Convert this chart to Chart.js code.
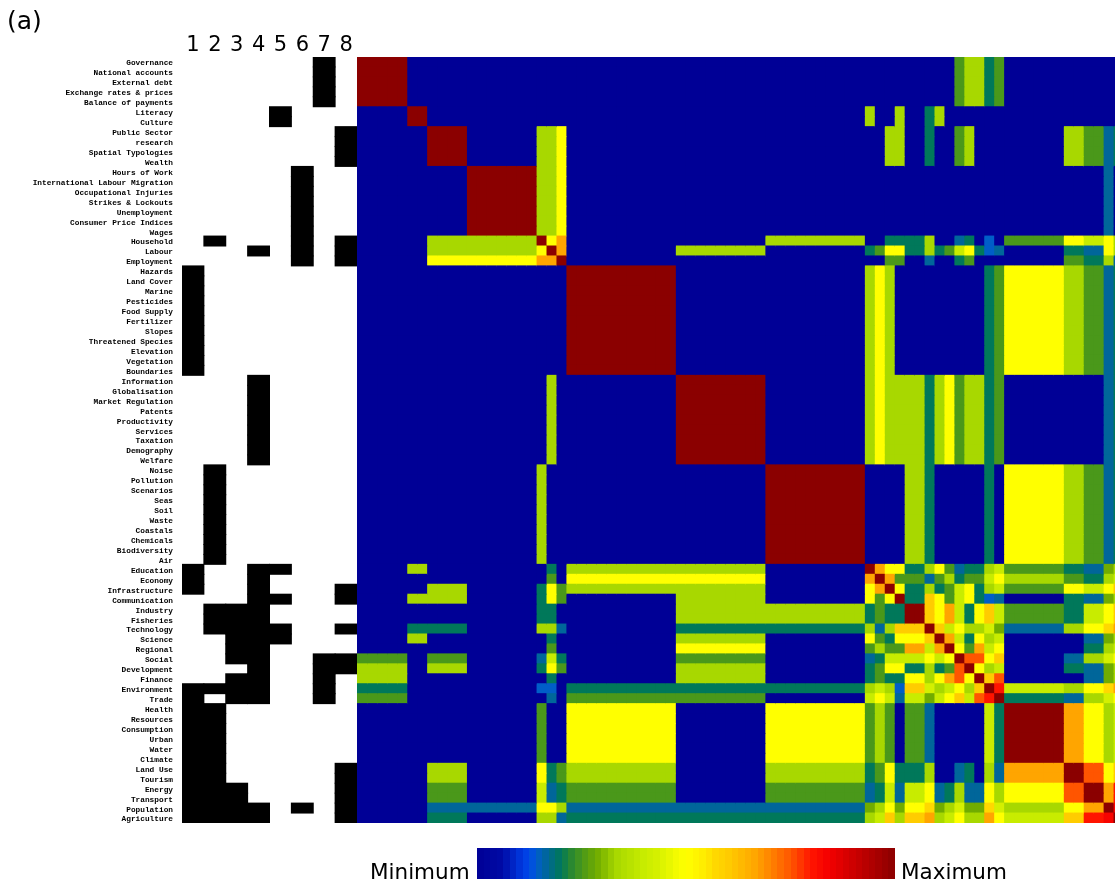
<!DOCTYPE html>
<html><head><meta charset="utf-8">
<script src="https://cdn.jsdelivr.net/npm/chart.js@4.4.1/dist/chart.umd.min.js"></script>
<style>
html,body{margin:0;padding:0;background:#fff;width:1115px;height:883px;overflow:hidden;}
#wrap{position:relative;width:1115px;height:883px;background:#fff;}
canvas{position:absolute;left:0;top:0;}
.txt{position:absolute;font-family:"DejaVu Sans";color:#000;white-space:nowrap;line-height:1;}
</style></head><body>
<div id="wrap">
<canvas id="mem" width="1115" height="883"></canvas>
<canvas id="heat" width="1115" height="883"></canvas>
<div class="txt" style="left:7px;top:8px;font-size:25px;">(a)</div>
<div class="txt" style="left:370px;top:861px;font-size:21.5px;">Minimum</div>
<div class="txt" style="left:901px;top:861px;font-size:21.5px;">Maximum</div>
</div>
<script>
// ---------------- DATA ----------------
const rowLabels = ["Governance","National accounts","External debt","Exchange rates & prices","Balance of payments",
"Literacy","Culture","Public Sector","research","Spatial Typologies","Wealth","Hours of Work",
"International Labour Migration","Occupational Injuries","Strikes & Lockouts","Unemployment",
"Consumer Price Indices","Wages","Household","Labour","Employment","Hazards","Land Cover","Marine",
"Pesticides","Food Supply","Fertilizer","Slopes","Threatened Species","Elevation","Vegetation",
"Boundaries","Information","Globalisation","Market Regulation","Patents","Productivity","Services",
"Taxation","Demography","Welfare","Noise","Pollution","Scenarios","Seas","Soil","Waste","Coastals",
"Chemicals","Biodiversity","Air","Education","Economy","Infrastructure","Communication","Industry",
"Fisheries","Technology","Science","Regional","Social","Development","Finance","Environment","Trade",
"Health","Resources","Consumption","Urban","Water","Climate","Land Use","Tourism","Energy","Transport",
"Population","Agriculture"];

const memberColumns = ["1","2","3","4","5","6","7","8"];

// '#' = row belongs to that column
const membership = [
"......#.","......#.","......#.","......#.","......#.",
"....#...","....#...",
".......#",".......#",".......#",".......#",
".....#..",".....#..",".....#..",".....#..",".....#..",".....#..",".....#..",
".#...#.#","...#.#.#",".....#.#",
"#.......","#.......","#.......","#.......","#.......","#.......","#.......","#.......","#.......","#.......","#.......",
"...#....","...#....","...#....","...#....","...#....","...#....","...#....","...#....","...#....",
".#......",".#......",".#......",".#......",".#......",".#......",".#......",".#......",".#......",".#......",
"#..##...","#..#....","#..#...#","...##..#",".###....",".###....",".####..#","..###...","..##....",
"..##..##","...#..##","..##..#.","####..#.","#.##..#.",
"##......","##......","##......","##......","##......","##......",
"##.....#","##.....#","###....#","###....#","####.#.#","####...#"];

// similarity level codes and their values
const levelCodes  = ["0","a","b","c","d","e","f","h","i","j","k","l","n","p","q","r","1"];
const levelValues = [0,0.143,0.167,0.2,0.25,0.286,0.333,0.4,0.429,0.5,0.571,0.6,0.667,0.75,0.8,0.833,1];

// one string per row, one code per column (spaces only for readability)
const similarityRows = [
"11111 00 0000 0000000 0 0 0 00000000000 000000000 0000000000 0 0 0 0 00 0 0 0 d f f c d 000000 00 00 0 0",
"11111 00 0000 0000000 0 0 0 00000000000 000000000 0000000000 0 0 0 0 00 0 0 0 d f f c d 000000 00 00 0 0",
"11111 00 0000 0000000 0 0 0 00000000000 000000000 0000000000 0 0 0 0 00 0 0 0 d f f c d 000000 00 00 0 0",
"11111 00 0000 0000000 0 0 0 00000000000 000000000 0000000000 0 0 0 0 00 0 0 0 d f f c d 000000 00 00 0 0",
"11111 00 0000 0000000 0 0 0 00000000000 000000000 0000000000 0 0 0 0 00 0 0 0 d f f c d 000000 00 00 0 0",
"00000 11 0000 0000000 0 0 0 00000000000 000000000 0000000000 f 0 0 f 00 c f 0 0 0 0 0 0 000000 00 00 0 0",
"00000 11 0000 0000000 0 0 0 00000000000 000000000 0000000000 f 0 0 f 00 c f 0 0 0 0 0 0 000000 00 00 0 0",
"00000 00 1111 0000000 f f j 00000000000 000000000 0000000000 0 0 f f 00 c 0 0 d f 0 0 0 000000 ff dd b c",
"00000 00 1111 0000000 f f j 00000000000 000000000 0000000000 0 0 f f 00 c 0 0 d f 0 0 0 000000 ff dd b c",
"00000 00 1111 0000000 f f j 00000000000 000000000 0000000000 0 0 f f 00 c 0 0 d f 0 0 0 000000 ff dd b c",
"00000 00 1111 0000000 f f j 00000000000 000000000 0000000000 0 0 f f 00 c 0 0 d f 0 0 0 000000 ff dd b c",
"00000 00 0000 1111111 f f j 00000000000 000000000 0000000000 0 0 0 0 00 0 0 0 0 0 0 0 0 000000 00 00 b 0",
"00000 00 0000 1111111 f f j 00000000000 000000000 0000000000 0 0 0 0 00 0 0 0 0 0 0 0 0 000000 00 00 b 0",
"00000 00 0000 1111111 f f j 00000000000 000000000 0000000000 0 0 0 0 00 0 0 0 0 0 0 0 0 000000 00 00 b 0",
"00000 00 0000 1111111 f f j 00000000000 000000000 0000000000 0 0 0 0 00 0 0 0 0 0 0 0 0 000000 00 00 b 0",
"00000 00 0000 1111111 f f j 00000000000 000000000 0000000000 0 0 0 0 00 0 0 0 0 0 0 0 0 000000 00 00 b 0",
"00000 00 0000 1111111 f f j 00000000000 000000000 0000000000 0 0 0 0 00 0 0 0 0 0 0 0 0 000000 00 00 b 0",
"00000 00 0000 1111111 f f j 00000000000 000000000 0000000000 0 0 0 0 00 0 0 0 0 0 0 0 0 000000 00 00 b 0",
"00000 00 ffff fffffff 1 j n 00000000000 000000000 ffffffffff 0 0 c c cc f 0 0 b c 0 a 0 dddddd jj hh j f",
"00000 00 ffff fffffff j 1 n 00000000000 fffffffff 0000000000 c d j j cc f c d h j c a b 000000 cc bb j f",
"00000 00 jjjj jjjjjjj n n 1 00000000000 000000000 0000000000 0 0 d d 00 b 0 0 c d 0 0 0 000000 dd cc f b",
"00000 00 0000 0000000 0 0 0 11111111111 000000000 0000000000 f j f 0 00 0 0 0 0 0 0 c d jjjjjj ff dd b c",
"00000 00 0000 0000000 0 0 0 11111111111 000000000 0000000000 f j f 0 00 0 0 0 0 0 0 c d jjjjjj ff dd b c",
"00000 00 0000 0000000 0 0 0 11111111111 000000000 0000000000 f j f 0 00 0 0 0 0 0 0 c d jjjjjj ff dd b c",
"00000 00 0000 0000000 0 0 0 11111111111 000000000 0000000000 f j f 0 00 0 0 0 0 0 0 c d jjjjjj ff dd b c",
"00000 00 0000 0000000 0 0 0 11111111111 000000000 0000000000 f j f 0 00 0 0 0 0 0 0 c d jjjjjj ff dd b c",
"00000 00 0000 0000000 0 0 0 11111111111 000000000 0000000000 f j f 0 00 0 0 0 0 0 0 c d jjjjjj ff dd b c",
"00000 00 0000 0000000 0 0 0 11111111111 000000000 0000000000 f j f 0 00 0 0 0 0 0 0 c d jjjjjj ff dd b c",
"00000 00 0000 0000000 0 0 0 11111111111 000000000 0000000000 f j f 0 00 0 0 0 0 0 0 c d jjjjjj ff dd b c",
"00000 00 0000 0000000 0 0 0 11111111111 000000000 0000000000 f j f 0 00 0 0 0 0 0 0 c d jjjjjj ff dd b c",
"00000 00 0000 0000000 0 0 0 11111111111 000000000 0000000000 f j f 0 00 0 0 0 0 0 0 c d jjjjjj ff dd b c",
"00000 00 0000 0000000 0 0 0 11111111111 000000000 0000000000 f j f 0 00 0 0 0 0 0 0 c d jjjjjj ff dd b c",
"00000 00 0000 0000000 0 f 0 00000000000 111111111 0000000000 f j f f ff c f j d f f c d 000000 00 00 b c",
"00000 00 0000 0000000 0 f 0 00000000000 111111111 0000000000 f j f f ff c f j d f f c d 000000 00 00 b c",
"00000 00 0000 0000000 0 f 0 00000000000 111111111 0000000000 f j f f ff c f j d f f c d 000000 00 00 b c",
"00000 00 0000 0000000 0 f 0 00000000000 111111111 0000000000 f j f f ff c f j d f f c d 000000 00 00 b c",
"00000 00 0000 0000000 0 f 0 00000000000 111111111 0000000000 f j f f ff c f j d f f c d 000000 00 00 b c",
"00000 00 0000 0000000 0 f 0 00000000000 111111111 0000000000 f j f f ff c f j d f f c d 000000 00 00 b c",
"00000 00 0000 0000000 0 f 0 00000000000 111111111 0000000000 f j f f ff c f j d f f c d 000000 00 00 b c",
"00000 00 0000 0000000 0 f 0 00000000000 111111111 0000000000 f j f f ff c f j d f f c d 000000 00 00 b c",
"00000 00 0000 0000000 0 f 0 00000000000 111111111 0000000000 f j f f ff c f j d f f c d 000000 00 00 b c",
"00000 00 0000 0000000 f 0 0 00000000000 000000000 1111111111 0 0 0 0 ff c 0 0 0 0 0 c 0 jjjjjj ff dd b c",
"00000 00 0000 0000000 f 0 0 00000000000 000000000 1111111111 0 0 0 0 ff c 0 0 0 0 0 c 0 jjjjjj ff dd b c",
"00000 00 0000 0000000 f 0 0 00000000000 000000000 1111111111 0 0 0 0 ff c 0 0 0 0 0 c 0 jjjjjj ff dd b c",
"00000 00 0000 0000000 f 0 0 00000000000 000000000 1111111111 0 0 0 0 ff c 0 0 0 0 0 c 0 jjjjjj ff dd b c",
"00000 00 0000 0000000 f 0 0 00000000000 000000000 1111111111 0 0 0 0 ff c 0 0 0 0 0 c 0 jjjjjj ff dd b c",
"00000 00 0000 0000000 f 0 0 00000000000 000000000 1111111111 0 0 0 0 ff c 0 0 0 0 0 c 0 jjjjjj ff dd b c",
"00000 00 0000 0000000 f 0 0 00000000000 000000000 1111111111 0 0 0 0 ff c 0 0 0 0 0 c 0 jjjjjj ff dd b c",
"00000 00 0000 0000000 f 0 0 00000000000 000000000 1111111111 0 0 0 0 ff c 0 0 0 0 0 c 0 jjjjjj ff dd b c",
"00000 00 0000 0000000 f 0 0 00000000000 000000000 1111111111 0 0 0 0 ff c 0 0 0 0 0 c 0 jjjjjj ff dd b c",
"00000 00 0000 0000000 f 0 0 00000000000 000000000 1111111111 0 0 0 0 ff c 0 0 0 0 0 c 0 jjjjjj ff dd b c",
"00000 ff 0000 0000000 0 c 0 fffffffffff fffffffff 0000000000 1 n j j cc f j d b c c f h dddddd cc bb e f",
"00000 00 0000 0000000 0 d 0 jjjjjjjjjjj jjjjjjjjj 0000000000 n 1 n d dd b d f c d d h j ffffff dd cc f h",
"00000 00 ffff 0000000 c j d fffffffffff fffffffff 0000000000 j n 1 j cc f c d h j c f h dddddd jj hh j l",
"00000 ff ffff 0000000 c j d 00000000000 fffffffff 0000000000 j d j 1 cc l j d h j c a b 000000 cc bb e f",
"00000 00 0000 0000000 c c 0 00000000000 fffffffff ffffffffff c d c c 11 l j n h c j l h dddddd cc hh j l",
"00000 00 0000 0000000 c c 0 00000000000 fffffffff ffffffffff c d c c 11 l j n h c j l h dddddd cc hh j l",
"00000 cc cccc 0000000 f f b 00000000000 ccccccccc cccccccccc f b f l ll 1 l h j f f i e bbbbbb ff jj k n",
"00000 ff 0000 0000000 0 c 0 00000000000 fffffffff 0000000000 j d c j jj l 1 n h c j f h 000000 00 bb e f",
"00000 00 0000 0000000 0 d 0 00000000000 jjjjjjjjj 0000000000 d f d d nn h n 1 j d n h j 000000 00 cc f h",
"ddddd 00 dddd 0000000 b h c 00000000000 ddddddddd 0000000000 b c h h hh j h j 1 p p j l 000000 bb ff i j",
"fffff 00 ffff 0000000 c j d 00000000000 fffffffff 0000000000 c d j j cc f c d p 1 j f h 000000 cc bb e f",
"fffff 00 0000 0000000 0 c 0 00000000000 fffffffff 0000000000 c d c c jj f j n p j 1 l p 000000 00 bb e f",
"ccccc 00 0000 0000000 a a 0 ccccccccccc ccccccccc cccccccccc f h f a ll i f h j f l 1 q hhhhhh ff jj k n",
"ddddd 00 0000 0000000 0 b 0 ddddddddddd ddddddddd 0000000000 h j h b hh e h j l h p q 1 cccccc bb ff i j",
"00000 00 0000 0000000 d 0 0 jjjjjjjjjjj 000000000 jjjjjjjjjj d f d 0 dd b 0 0 0 0 0 h c 111111 nn jj f h",
"00000 00 0000 0000000 d 0 0 jjjjjjjjjjj 000000000 jjjjjjjjjj d f d 0 dd b 0 0 0 0 0 h c 111111 nn jj f h",
"00000 00 0000 0000000 d 0 0 jjjjjjjjjjj 000000000 jjjjjjjjjj d f d 0 dd b 0 0 0 0 0 h c 111111 nn jj f h",
"00000 00 0000 0000000 d 0 0 jjjjjjjjjjj 000000000 jjjjjjjjjj d f d 0 dd b 0 0 0 0 0 h c 111111 nn jj f h",
"00000 00 0000 0000000 d 0 0 jjjjjjjjjjj 000000000 jjjjjjjjjj d f d 0 dd b 0 0 0 0 0 h c 111111 nn jj f h",
"00000 00 0000 0000000 d 0 0 jjjjjjjjjjj 000000000 jjjjjjjjjj d f d 0 dd b 0 0 0 0 0 h c 111111 nn jj f h",
"00000 00 ffff 0000000 j c d fffffffffff 000000000 ffffffffff c d j c cc f 0 0 b c 0 f b nnnnnn 11 pp j l",
"00000 00 ffff 0000000 j c d fffffffffff 000000000 ffffffffff c d j c cc f 0 0 b c 0 f b nnnnnn 11 pp j l",
"00000 00 dddd 0000000 h b c ddddddddddd 000000000 dddddddddd b c h b hh j b c f b b j f jjjjjj pp 11 n q",
"00000 00 dddd 0000000 h b c ddddddddddd 000000000 dddddddddd b c h b hh j b c f b b j f jjjjjj pp 11 n q",
"00000 00 bbbb bbbbbbb j j f bbbbbbbbbbb bbbbbbbbb bbbbbbbbbb e f j e jj k e f i e e k i ffffff jj nn 1 r",
"00000 00 cccc 0000000 f f b ccccccccccc ccccccccc cccccccccc f h l f ll n f h j f f n j hhhhhh ll qq r 1"];

// colour scale (position 0..1 -> rgb)
const cmapPositions = [0, 0.06, 0.10, 0.125, 0.143, 0.167, 0.2, 0.225, 0.25, 0.286, 0.333, 0.4, 0.43, 0.48, 0.5, 0.54, 0.571, 0.6, 0.667, 0.75, 0.8, 0.84, 0.9, 1];
const cmapColors = [[0,0,150],[0,10,165],[0,50,215],[0,72,235],[0,94,200],[0,102,154],[0,120,90],[40,135,50],[74,152,26],
  [112,172,0],[168,216,0],[200,236,0],[212,240,0],[245,252,0],[255,255,0],[255,238,0],[255,216,0],[255,204,0],[255,165,0],
  [255,85,0],[255,20,0],[245,0,0],[205,0,0],[139,0,0]];

// ---------------- HELPERS ----------------
const N = rowLabels.length;
const sim = similarityRows.map(r => r.replace(/ /g, ''));
sim.forEach((r, i) => { if (r.length !== N) throw new Error('row ' + i + ' length ' + r.length); });
function cellValue(i, j) { return levelValues[levelCodes.indexOf(sim[i][j])]; }
function valueColor(v) {
  let k = 0;
  while (k < cmapPositions.length - 2 && v > cmapPositions[k + 1]) k++;
  const p0 = cmapPositions[k], p1 = cmapPositions[k + 1];
  const t = Math.max(0, Math.min(1, (v - p0) / (p1 - p0)));
  const c0 = cmapColors[k], c1 = cmapColors[k + 1];
  const c = c0.map((a, n) => Math.round(a + (c1[n] - a) * t));
  return 'rgb(' + c.join(',') + ')';
}

// layout
const W = 1115, H = 883;
const plotTop = 57, plotBottom = 823, heatLeft = 357, memLeft = 182;
const cell = (plotBottom - plotTop) / N;
const heatMax = -0.5 + (W - heatLeft) / cell;

// ---------------- MEMBERSHIP CHART ----------------
new Chart(document.getElementById('mem'), {
  type: 'bar',
  data: {
    labels: rowLabels,
    datasets: memberColumns.map((c, k) => ({
      label: c,
      data: membership.map(m => m[k] === '#' ? [k + 0.5, k + 1.5] : null),
      backgroundColor: '#000000', borderWidth: 0, inflateAmount: 0.5,
      barPercentage: 1, categoryPercentage: 1, grouped: false
    }))
  },
  options: {
    indexAxis: 'y', responsive: false, animation: false, events: [],
    layout: { padding: { left: 0, top: 0, right: W - heatLeft, bottom: H - plotBottom } },
    plugins: { legend: { display: false }, tooltip: { enabled: false } },
    scales: {
      x: {
        type: 'linear', position: 'top', min: 0.5, max: memberColumns.length + 0.5,
        grid: { display: false, drawTicks: false }, border: { display: false },
        ticks: { font: { family: 'DejaVu Sans', size: 21, lineHeight: 1 }, color: '#000', padding: 1,
                 autoSkip: false, maxRotation: 0, callback: v => memberColumns[v - 1] },
        afterBuildTicks: s => { s.ticks = memberColumns.map((c, i) => ({ value: i + 1 })); },
        afterFit: s => { s.height = plotTop; }
      },
      y: {
        type: 'category',
        grid: { display: false, drawTicks: false }, border: { display: false },
        ticks: { font: { family: 'Liberation Mono', size: 7.8, weight: 'bold' }, color: '#000', padding: 9,
                 autoSkip: false, labelOffset: 1.5 },
        afterFit: s => { s.width = memLeft; }
      }
    }
  }
});

// ---------------- HEATMAP CHART ----------------
const colorbarPlugin = {
  id: 'colorbar',
  afterDraw(chart) {
    const ctx = chart.ctx;
    const x0 = 477, x1 = 895, y0 = 848, y1 = 879, bands = 64;
    ctx.save();
    for (let k = 0; k < bands; k++) {
      const a = Math.round(x0 + (x1 - x0) * k / bands), b = Math.round(x0 + (x1 - x0) * (k + 1) / bands);
      ctx.fillStyle = valueColor((k + 0.5) / bands);
      ctx.fillRect(a, y0, b - a, y1 - y0);
    }
    ctx.restore();
  }
};

new Chart(document.getElementById('heat'), {
  type: 'bar',
  data: {
    labels: rowLabels,
    datasets: rowLabels.map((lab, j) => ({
      label: lab,
      data: rowLabels.map(() => [j - 0.5, j + 0.5]),
      backgroundColor: rowLabels.map((_, i) => valueColor(cellValue(i, j))),
      borderWidth: 0, inflateAmount: 0.5,
      barPercentage: 1, categoryPercentage: 1, grouped: false
    }))
  },
  options: {
    indexAxis: 'y', responsive: false, animation: false, events: [],
    layout: { padding: { left: heatLeft, top: plotTop, right: 0, bottom: H - plotBottom } },
    plugins: { legend: { display: false }, tooltip: { enabled: false } },
    scales: {
      x: { type: 'linear', display: false, min: -0.5, max: heatMax },
      y: { type: 'category', display: false }
    }
  },
  plugins: [colorbarPlugin]
});
</script>
</body></html>
